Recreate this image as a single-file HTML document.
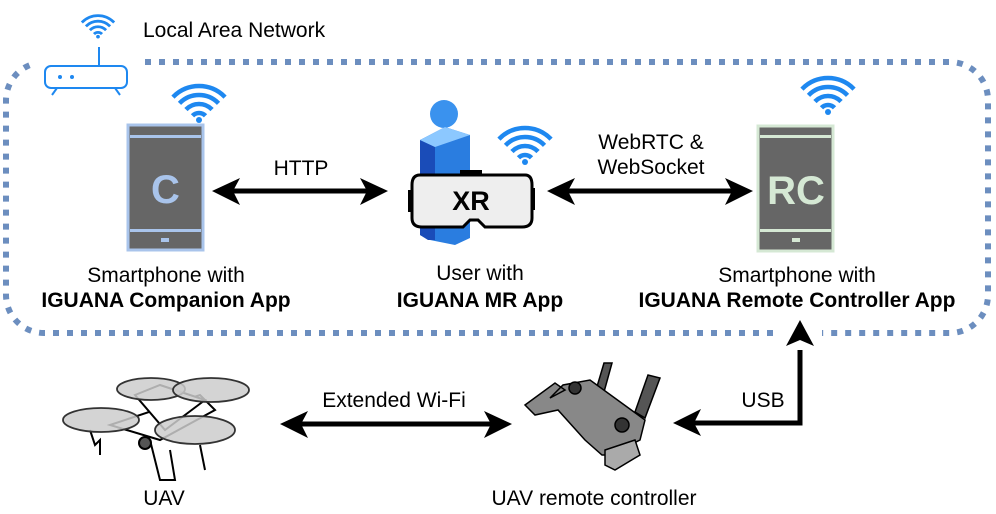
<!DOCTYPE html>
<html><head><meta charset="utf-8"><style>
body{margin:0;background:#fff}
svg{display:block;font-family:"Liberation Sans",Arial,sans-serif}
</style></head><body>
<svg width="996" height="514" viewBox="0 0 996 514" xmlns="http://www.w3.org/2000/svg">
<defs>
<clipPath id="wedge"><polygon points="-44,-26 44,-26 0,16"/></clipPath>
<g id="wifi">
<g clip-path="url(#wedge)" fill="none" stroke="#1e88f0" stroke-width="4.5">
<circle cx="0" cy="16" r="36"/>
<circle cx="0" cy="16" r="27"/>
<circle cx="0" cy="16" r="18"/>
<circle cx="0" cy="16" r="9"/>
</g>
<circle cx="0" cy="14" r="3" fill="#1e88f0"/>
</g>
</defs>
<path d="M145,62 H950 A38,38 0 0 1 988,100 V295 A38,38 0 0 1 950,333 H822 M773,333 H44 A38,38 0 0 1 6,295 V100 A38,38 0 0 1 30,65" fill="none" stroke="#6c8ebf" stroke-width="6" stroke-dasharray="6 8"/>
<use href="#wifi" transform="translate(98,28) scale(0.62)"/>
<line x1="99" y1="47" x2="99" y2="66" stroke="#1e88f0" stroke-width="2"/>
<rect x="45" y="66" width="82" height="22" rx="6" fill="#fff" stroke="#1e88f0" stroke-width="2"/>
<circle cx="60" cy="77" r="2" fill="#1e88f0"/><circle cx="72" cy="77" r="2" fill="#1e88f0"/>
<line x1="57" y1="88" x2="52" y2="95" stroke="#1e88f0" stroke-width="2"/>
<line x1="115" y1="88" x2="120" y2="95" stroke="#1e88f0" stroke-width="2"/>
<text x="143" y="37" font-size="21" fill="#000">Local Area Network</text>
<use href="#wifi" transform="translate(199,106)"/>
<rect x="128" y="125" width="75" height="125" fill="#666" stroke="#a9c4eb" stroke-width="3"/>
<rect x="130" y="135" width="71" height="3" fill="#a9c4eb"/>
<rect x="130" y="229" width="71" height="3" fill="#a9c4eb"/>
<rect x="161" y="238" width="8" height="4" fill="#a9c4eb"/>
<text x="165.5" y="203" font-size="40" font-weight="bold" fill="#a9c4eb" text-anchor="middle">C</text>
<circle cx="444" cy="114" r="14" fill="#3a92ee"/>
<path d="M420,140 L445,127 L470,135 L470,238 L455,245 L430,240 L420,235 Z" fill="#2a7de0"/>
<path d="M420,140 L435,147 L435,240 L428,240 L420,235 Z" fill="#1a4cb8"/>
<path d="M420,140 L445,127 L470,135 L435,147 Z" fill="#8cc8ff"/>
<use href="#wifi" transform="translate(525,148)"/>
<rect x="460" y="170" width="22" height="6" fill="#000"/>
<rect x="408" y="190" width="5" height="22" fill="#000"/>
<rect x="530" y="188" width="5" height="22" fill="#000"/>
<path d="M420,175 H525 Q532,175 532,185 V218 Q532,227 522,227 H485 L478,220 L470,220 L463,227 H422 Q412,227 412,218 V185 Q412,175 420,175 Z" fill="#eee" stroke="#000" stroke-width="3"/>
<text x="471" y="210" font-size="27" font-weight="bold" text-anchor="middle" fill="#000">XR</text>
<use href="#wifi" transform="translate(828,98)"/>
<rect x="758" y="126" width="75" height="125" fill="#666" stroke="#d5e8d4" stroke-width="3"/>
<rect x="760" y="135" width="71" height="3" fill="#d5e8d4"/>
<rect x="760" y="229" width="71" height="3" fill="#d5e8d4"/>
<rect x="792" y="238" width="8" height="4" fill="#d5e8d4"/>
<text x="796" y="204" font-size="40" font-weight="bold" fill="#d5e8d4" text-anchor="middle">RC</text>
<g stroke="#000" stroke-width="5" fill="none">
<line x1="225" y1="191" x2="375" y2="191"/>
<line x1="560" y1="191" x2="740" y2="191"/>
<line x1="292" y1="424" x2="500" y2="424"/>
<polyline points="800,350 800,423 686,423"/>
</g>
<g fill="#000">
<path d="M212,191 L240,178 L233,191 L240,205 Z"/>
<path d="M388,191 L360,178 L367,191 L360,205 Z"/>
<path d="M547,191 L575,178 L568,191 L575,205 Z"/>
<path d="M753,191 L725,178 L732,191 L725,205 Z"/>
<path d="M280,424 L308,411 L301,424 L308,438 Z"/>
<path d="M512,424 L484,411 L491,424 L484,438 Z"/>
<path d="M673,423 L701,409 L694,423 L701,436 Z"/>
<path d="M800,320 L786,346 L800,340 L814,346 Z"/>
</g>
<g font-size="21" fill="#000" text-anchor="middle">
<text x="301" y="175">HTTP</text>
<text x="651" y="149">WebRTC &amp;</text>
<text x="651" y="174">WebSocket</text>
<text x="166" y="282">Smartphone with</text>
<text x="166" y="307" font-weight="bold">IGUANA Companion App</text>
<text x="480" y="280">User with</text>
<text x="480" y="307" font-weight="bold">IGUANA MR App</text>
<text x="797" y="282">Smartphone with</text>
<text x="797" y="307" font-weight="bold">IGUANA Remote Controller App</text>
<text x="394" y="407">Extended Wi-Fi</text>
<text x="763" y="407">USB</text>
<text x="164" y="505">UAV</text>
<text x="594" y="505">UAV remote controller</text>
</g>
<g stroke="#000" stroke-width="2" fill="#fff">
<path d="M90,430 L95,445 L100,440 L100,455 M150,440 L160,480 L175,480 L170,450 M200,445 L205,470 M110,425 L200,395 L215,410 L160,440 Z"/>
<path d="M135,395 L160,385 L205,400 L165,430 Z"/>
<circle cx="145" cy="443" r="6" fill="#555"/>
</g>
<g fill="#ccc" fill-opacity="0.85" stroke="#333" stroke-width="1.8">
<ellipse cx="101" cy="420" rx="38" ry="12"/>
<ellipse cx="151" cy="389" rx="34" ry="11"/>
<ellipse cx="211" cy="390" rx="38" ry="12"/>
<ellipse cx="195" cy="430" rx="40" ry="14"/>
</g>
<g stroke="#000" stroke-width="1.5">
<path d="M596,390 L604,363 L612,363 L604,392 Z" fill="#555"/>
<path d="M635,412 L648,375 L660,378 L645,418 Z" fill="#555"/>
<path d="M525,405 L555,383 L565,390 L550,398 L563,385 L590,380 L645,420 L640,440 L630,445 L615,455 L602,455 L585,440 L558,410 L535,415 Z" fill="#888"/>
<path d="M605,450 L635,440 L640,455 L615,470 L605,465 Z" fill="#aaa"/>
<circle cx="575" cy="388" r="6" fill="#333"/>
<circle cx="622" cy="425" r="7" fill="#333"/>
</g>
</svg>
</body></html>
